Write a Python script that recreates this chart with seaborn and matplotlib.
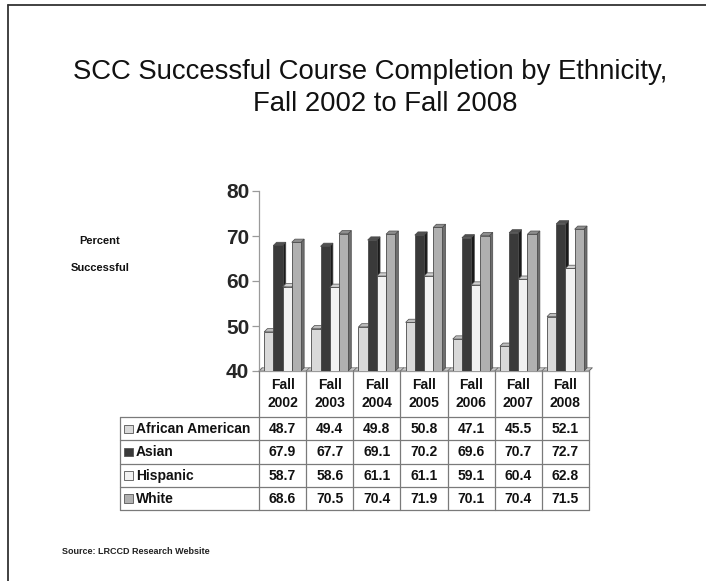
import matplotlib
matplotlib.use("Agg")
import matplotlib.pyplot as plt
import seaborn as sns
import pandas as pd
from matplotlib.patches import Polygon, Rectangle
from matplotlib.lines import Line2D

# ---------------- data ----------------
years = ["Fall\n2002", "Fall\n2003", "Fall\n2004", "Fall\n2005", "Fall\n2006", "Fall\n2007", "Fall\n2008"]
groups = ["African American", "Asian", "Hispanic", "White"]
african_american = [48.7, 49.4, 49.8, 50.8, 47.1, 45.5, 52.1]
asian = [67.9, 67.7, 69.1, 70.2, 69.6, 70.7, 72.7]
hispanic = [58.7, 58.6, 61.1, 61.1, 59.1, 60.4, 62.8]
white = [68.6, 70.5, 70.4, 71.9, 70.1, 70.4, 71.5]
yticks = [40, 50, 60, 70, 80]

series = [african_american, asian, hispanic, white]
rows = []
for g, vals in zip(groups, series):
    for y, v in zip(years, vals):
        rows.append({"Year": y, "Group": g, "Value": v})
df = pd.DataFrame(rows)

front_colors = ["#d9d9d9", "#3a3a3a", "#f2f2f2", "#b0b0b0"]
top_colors = ["#bdbdbd", "#505050", "#d0d0d0", "#8e8e8e"]
side_colors = ["#9a9a9a", "#1a1a1a", "#b8b8b8", "#6e6e6e"]
edge = "#4a4a4a"

sns.set_theme(style="white")
plt.rcParams["font.family"] = ["Liberation Sans", "DejaVu Sans"]

W, H = 706, 581
fig = plt.figure(figsize=(W / 100, H / 100), dpi=100)
fig.patch.set_facecolor("white")

def fx(px):
    return px / W

def fy(py):
    return 1 - py / H

ax_left, ax_right, ax_top, ax_bot = 259, 589, 191, 371
ax = fig.add_axes([fx(ax_left), fy(ax_bot), (ax_right - ax_left) / W, (ax_bot - ax_top) / H])

sns.barplot(data=df, x="Year", y="Value", hue="Group", hue_order=groups,
            palette=front_colors, width=0.78, saturation=1, ax=ax,
            edgecolor=edge, linewidth=0.6, legend=False)

ymin, ymax = 40, 80
ax.set_xlim(-0.5, 6.5)
ax.set_ylim(ymin, ymax)
ax.set_yticks(yticks)
ax.set_yticklabels([str(t) for t in yticks], fontsize=15, fontweight="bold")
ax.set_xticks([])
ax.set_xlabel("")
ax.set_ylabel("")
for s in ["top", "right"]:
    ax.spines[s].set_visible(False)
ax.spines["left"].set_color("#9a9a9a")
ax.spines["bottom"].set_color("#9a9a9a")
ax.spines["left"].set_linewidth(0.9)
ax.spines["bottom"].set_linewidth(0.9)
ax.tick_params(axis="y", which="major", length=5, width=0.9, color="#9a9a9a",
               direction="out", pad=2, left=True)
ax.patch.set_alpha(0)

# depth of the 3D effect, in data units derived from pixels
px_per_x = (ax_right - ax_left) / 7.0
px_per_y = (ax_bot - ax_top) / 40.0
ddx = 3.2 / px_per_x
ddy = 3.2 / px_per_y

# floor
floor = Polygon([(-0.5, ymin), (6.5, ymin), (6.5 + ddx, ymin + ddy), (-0.5 + ddx, ymin + ddy)],
                closed=True, facecolor="#c8c8c8", edgecolor="#6a6a6a", linewidth=0.5,
                zorder=0.5, clip_on=False)
ax.add_patch(floor)
for i in range(8):
    ax.add_line(Line2D([i - 0.5, i - 0.5 + ddx], [ymin, ymin + ddy], color="#6a6a6a",
                       linewidth=0.6, zorder=0.6, clip_on=False))

bars = [p for p in ax.patches if isinstance(p, Rectangle) and p.get_height() > 0]
nper = len(years)
for idx, p in enumerate(bars):
    k = idx // nper
    x0 = p.get_x()
    w = p.get_width()
    b = max(p.get_y(), ymin)
    t = p.get_y() + p.get_height()
    p.set_zorder(3 + 2 * k)
    side = Polygon([(x0 + w, b), (x0 + w + ddx, b + ddy), (x0 + w + ddx, t + ddy), (x0 + w, t)],
                   closed=True, facecolor=side_colors[k], edgecolor=edge, linewidth=0.5,
                   zorder=2.5 + 2 * k, clip_on=False)
    top = Polygon([(x0, t), (x0 + ddx, t + ddy), (x0 + w + ddx, t + ddy), (x0 + w, t)],
                  closed=True, facecolor=top_colors[k], edgecolor=edge, linewidth=0.5,
                  zorder=2.5 + 2 * k, clip_on=False)
    ax.add_patch(side)
    ax.add_patch(top)

# ---------------- data table ----------------
line_col = "#7a7a7a"
tbl_left = 120.5
hdr_top, hdr_bot = 371, 417
row_h = (510 - 417) / 4.0
col_px = [ax_left + i * px_per_x for i in range(8)]
tfont = dict(fontsize=10, fontweight="bold", color="#111111")

def fline(x0, y0, x1, y1):
    fig.add_artist(Line2D([fx(x0), fx(x1)], [fy(y0), fy(y1)], color=line_col, linewidth=0.9,
                          transform=fig.transFigure))

# verticals
for i, cx in enumerate(col_px):
    fline(cx, hdr_top, cx, 510)
fline(tbl_left, hdr_bot, tbl_left, 510)
# horizontals
for r in range(5):
    yy = hdr_bot + r * row_h
    fline(tbl_left, yy, ax_right, yy)

# header text
for i, yr in enumerate(years):
    cx = (col_px[i] + col_px[i + 1]) / 2
    l1, l2 = yr.split("\n")
    fig.text(fx(cx), fy(385), l1, ha="center", va="center", **tfont)
    fig.text(fx(cx), fy(403), l2, ha="center", va="center", **tfont)

# rows
for r, (g, vals) in enumerate(zip(groups, series)):
    cy = hdr_bot + (r + 0.5) * row_h
    fig.add_artist(Rectangle((fx(124), fy(cy + 4.5)), 8.5 / W, 8.5 / H,
                             facecolor=front_colors[r], edgecolor="#555555", linewidth=0.6,
                             transform=fig.transFigure))
    fig.text(fx(136), fy(cy + 0.5), g, ha="left", va="center", **tfont)
    for i, v in enumerate(vals):
        cx = (col_px[i] + col_px[i + 1]) / 2
        fig.text(fx(cx), fy(cy + 0.5), f"{v:.1f}", ha="center", va="center", **tfont)

# ---------------- titles and notes ----------------
fig.text(fx(370), fy(72), "SCC Successful Course Completion by Ethnicity,", ha="center",
         va="center", fontsize=19.8, color="#111111")
fig.text(fx(385), fy(104), "Fall 2002 to Fall 2008", ha="center", va="center",
         fontsize=19.8, color="#111111")

small = dict(fontsize=8, fontweight="bold", color="#111111")
fig.text(fx(100), fy(241), "Percent", ha="center", va="center", **small)
fig.text(fx(100), fy(268), "Successful", ha="center", va="center", **small)
fig.text(fx(62), fy(552), "Source: LRCCD Research Website", ha="left", va="center",
         fontsize=6.5, fontweight="bold", color="#222222")

# frame lines (top and left)
fig.add_artist(Line2D([fx(8), 1], [fy(5), fy(5)], color="#333333", linewidth=1.3,
                      transform=fig.transFigure))
fig.add_artist(Line2D([fx(8), fx(8)], [fy(5), 0], color="#333333", linewidth=1.3,
                      transform=fig.transFigure))

fig.savefig("out.png", dpi=100, facecolor="white")
